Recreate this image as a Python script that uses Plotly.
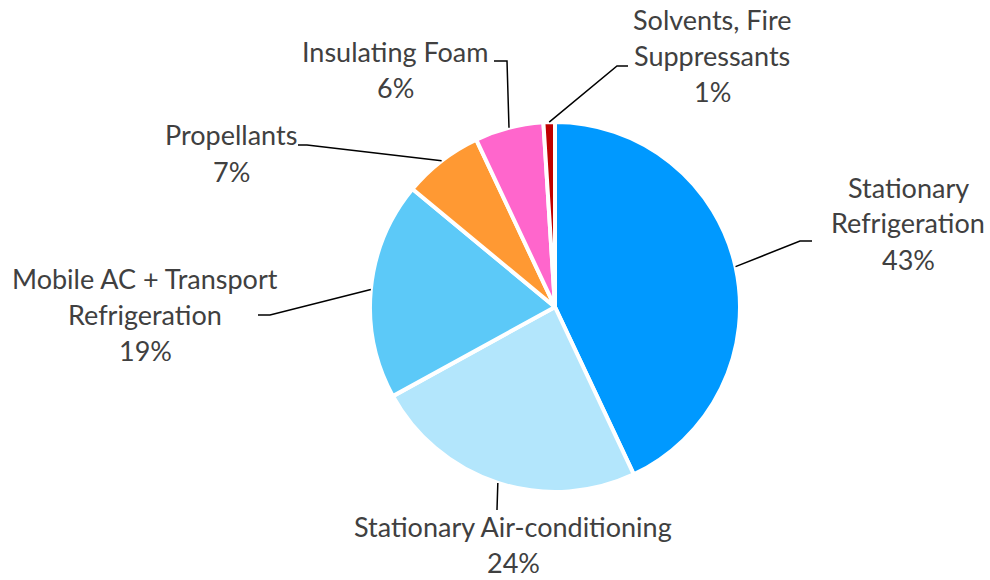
import math
import plotly.graph_objects as go

# ---- data ----
categories = ["Stationary Refrigeration", "Stationary Air-conditioning",
              "Mobile AC + Transport Refrigeration", "Propellants",
              "Insulating Foam", "Solvents, Fire Suppressants"]
values = [43, 24, 19, 7, 6, 1]
label_lines = [["Stationary", "Refrigeration"],
               ["Stationary Air-conditioning"],
               ["Mobile AC + Transport", "Refrigeration"],
               ["Propellants"],
               ["Insulating Foam"],
               ["Solvents, Fire", "Suppressants"]]
colors = ["#0099FF", "#B3E6FC", "#5CC9F8", "#FF9933", "#FF66CC", "#C00000"]

# ---- layout geometry (window pixels) ----
W, H = 990, 580
cx, cy, R = 555, 307, 185
label_pos = [(908, 223), (513, 544), (145, 314), (231, 153), (395, 70), (712, 56)]
elbows = [[(800, 241), (812, 241)],
          [(497, 510)],
          [(270, 315), (258, 315)],
          [(307, 145), (298, 145)],
          [(507, 61), (494, 61)],
          [(617, 66), (628, 66)]]
line_h = 36
font = dict(family="Lato, 'Open Sans', sans-serif", size=27, color="#404040")


def px(x):
    return x / W


def py(y):
    return 1 - y / H


fig = go.Figure(go.Pie(
    labels=categories, values=values, sort=False, direction="clockwise",
    rotation=0, marker=dict(colors=colors, line=dict(color="white", width=4)),
    textinfo="none", hoverinfo="label+percent", showlegend=False,
    domain=dict(x=[px(cx - R), px(cx + R)], y=[py(cy + R), py(cy - R)]),
))

shapes = []
annotations = []
total = sum(values)
cum = 0
for i, v in enumerate(values):
    mid = cum + v / 2
    cum += v
    ang = math.radians(90 - 360 * mid / total)
    sx, sy = cx + R * math.cos(ang), cy - R * math.sin(ang)
    pts = [(sx, sy)] + elbows[i]
    path = "M " + " L ".join(f"{px(x)},{py(y)}" for x, y in pts)
    shapes.append(dict(type="path", path=path, xref="paper", yref="paper",
                       line=dict(color="black", width=1.5)))
    lines = label_lines[i] + [f"{v}%"]
    lx, ly = label_pos[i]
    n = len(lines)
    for k, t in enumerate(lines):
        yy = ly + (k - (n - 1) / 2) * line_h
        annotations.append(dict(text=t, x=px(lx), y=py(yy), xref="paper", yref="paper",
                                xanchor="center", yanchor="middle", showarrow=False,
                                font=font))

fig.update_layout(width=W, height=H, margin=dict(l=0, r=0, t=0, b=0),
                  paper_bgcolor="white", plot_bgcolor="white",
                  shapes=shapes, annotations=annotations)

fig.write_html("out.html", config={"displayModeBar": False},
               post_script="document.body.style.margin='0';"
                           "document.body.style.overflow='hidden';")
